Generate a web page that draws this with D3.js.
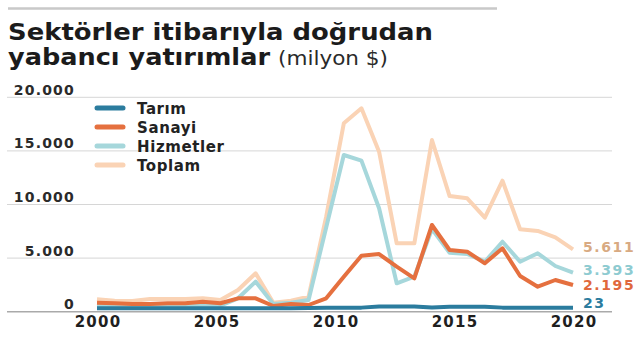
<!DOCTYPE html>
<html>
<head>
<meta charset="utf-8">
<script src="https://cdn.jsdelivr.net/npm/d3@7"></script>
<style>
    body { margin: 0; background: #fff; }
    svg { display: block; }
    text { font-family: "DejaVu Sans", sans-serif; }
</style>
</head>
<body>
<div id="chart"></div>
<script>
// Values (milyon $), 28 points spread evenly from 2000 to 2020
var toplam    = [1157, 1026, 998, 1185, 1185, 1185, 1250, 1091, 2024, 3582, 840, 1026, 1400, 8860,
                 17575, 18975, 14925, 6380, 6380, 16015, 10790, 10580, 8770, 12220, 7690, 7530, 6940, 5820];
var hizmetler = [600, 560, 580, 620, 600, 600, 620, 560, 1250, 2800, 720, 840, 1090, 7850,
                 14620, 14090, 9645, 2650, 3265, 7700, 5504, 5382, 4664, 6530, 4664, 5448, 4263, 3638];
var sanayi    = [840, 784, 718, 718, 784, 784, 933, 784, 1250, 1250, 532, 718, 625, 1250,
                 3265, 5224, 5382, 4198, 3116, 8088, 5756, 5597, 4515, 5914, 3330, 2332, 2957, 2490];
var tarim     = [330, 330, 330, 330, 330, 330, 330, 330, 330, 330, 330, 330, 350, 360,
                 380, 380, 480, 480, 480, 400, 460, 460, 460, 380, 380, 380, 380, 380];

// Legend names, end labels and tick labels
var seriesNames = ["Tarım", "Sanayi", "Hizmetler", "Toplam"];
var endLabels = ["23", "2.195", "3.393", "5.611"];
var yearTicks = [2000, 2005, 2010, 2015, 2020];
var valueTicks = [0, 5000, 10000, 15000, 20000];

(function () {
    var width = 643, height = 343;

    // Line colours and the (slightly darker) label colours, in legend order
    var colors = ["#2b7c9e", "#e5703f", "#a6d7db", "#fad3b5"];
    var labelColors = ["#2b7c9e", "#e0683c", "#8ecbd1", "#d8aa82"];
    var series = [tarim, sanayi, hizmetler, toplam];

    var svg = d3.select("#chart").append("svg")
        .attr("width", width)
        .attr("height", height);

    // Scales: index for the points, year for the axis labels
    var x = d3.scaleLinear().domain([0, toplam.length - 1]).range([97, 573]);
    var xYear = d3.scaleLinear().domain([2000, 2020]).range([97, 573]);
    var y = d3.scaleLinear().domain([0, 20000]).range([311.7, 97.3]);

    var fmt = d3.formatLocale({decimal: ",", thousands: ".", grouping: [3], currency: ["", "$"]}).format(",d");

    // Rule on top
    svg.append("line")
        .attr("x1", 8).attr("x2", 497)
        .attr("y1", 8.5).attr("y2", 8.5)
        .style("stroke", "#c9c9c9")
        .style("stroke-width", 2.5);

    // Title
    svg.append("text")
        .attr("x", 8).attr("y", 40)
        .attr("textLength", 425)
        .attr("lengthAdjust", "spacingAndGlyphs")
        .style("font-size", "23px")
        .style("font-weight", "bold")
        .style("fill", "#1b1b1b")
        .text("Sektörler itibarıyla doğrudan");

    svg.append("text")
        .attr("x", 8).attr("y", 65)
        .attr("textLength", 262)
        .attr("lengthAdjust", "spacingAndGlyphs")
        .style("font-size", "23px")
        .style("font-weight", "bold")
        .style("fill", "#1b1b1b")
        .text("yabancı yatırımlar");

    svg.append("text")
        .attr("x", 278).attr("y", 65)
        .attr("textLength", 110)
        .attr("lengthAdjust", "spacingAndGlyphs")
        .style("font-size", "19px")
        .style("fill", "#2a2a2a")
        .text("(milyon $)");

    // Grid lines with the value labels sitting on top of them
    var grid = svg.append("g");
    grid.selectAll("line")
        .data(valueTicks)
        .enter().append("line")
        .attr("x1", 7).attr("x2", 612)
        .attr("y1", function (d) { return y(d); })
        .attr("y2", function (d) { return y(d); })
        .style("stroke", function (d) { return d === 0 ? "#aaaaaa" : "#d6d6d6"; })
        .style("stroke-width", function (d) { return d === 0 ? 1.5 : 1; });

    grid.selectAll("text")
        .data(valueTicks)
        .enter().append("text")
        .attr("x", 75)
        .attr("y", function (d) { return y(d) - 2.5; })
        .attr("text-anchor", "end")
        .style("font-size", "14px")
        .style("font-weight", "bold")
        .style("letter-spacing", "1.2px")
        .style("fill", "#2a2a2a")
        .text(function (d) { return fmt(d); });

    // Year labels under the axis
    svg.append("g").selectAll("text")
        .data(yearTicks)
        .enter().append("text")
        .attr("x", function (d) { return xYear(d) + 1; })
        .attr("y", 326.5)
        .attr("text-anchor", "middle")
        .style("font-size", "15px")
        .style("font-weight", "bold")
        .style("letter-spacing", "1.2px")
        .style("fill", "#1f1f1f")
        .text(function (d) { return d; });

    // Lines, Toplam at the bottom and Tarım on top
    var line = d3.line()
        .x(function (d, i) { return x(i); })
        .y(function (d) { return y(d); });

    for (var i = series.length - 1; i >= 0; i -= 1) {
        svg.append("path")
            .datum(series[i])
            .attr("d", line)
            .style("fill", "none")
            .style("stroke", colors[i])
            .style("stroke-width", 4)
            .style("stroke-linejoin", "round");
    }

    // Value labels at the end of each line, top one first, pushed apart when too close
    var labelY = [];
    for (i = series.length - 1; i >= 0; i -= 1) {
        var last = series[i][series[i].length - 1];
        var ly = Math.min(y(last) + 2.5, y(0) - 3.5);
        if (i < series.length - 1 && ly - labelY[i + 1] < 14.5) {
            ly = labelY[i + 1] + 14.5;
        }
        labelY[i] = ly;
    }

    for (i = 0; i < series.length; i += 1) {
        svg.append("text")
            .attr("x", 583)
            .attr("y", labelY[i])
            .style("font-size", "14px")
            .style("font-weight", "bold")
            .style("letter-spacing", "1.6px")
            .style("fill", labelColors[i])
            .text(endLabels[i]);
    }

    // Legend
    var legend = svg.append("g");
    legend.selectAll("line")
        .data(seriesNames)
        .enter().append("line")
        .attr("x1", 97).attr("x2", 123)
        .attr("y1", function (d, i) { return 108 + i * 19; })
        .attr("y2", function (d, i) { return 108 + i * 19; })
        .style("stroke", function (d, i) { return colors[i]; })
        .style("stroke-width", 5)
        .style("stroke-linecap", "round");

    legend.selectAll("text")
        .data(seriesNames)
        .enter().append("text")
        .attr("x", 137)
        .attr("y", function (d, i) { return 113.5 + i * 19; })
        .style("font-size", "15px")
        .style("font-weight", "bold")
        .style("letter-spacing", "0.6px")
        .style("fill", "#222")
        .text(function (d) { return d; });
}());
</script>
</body>
</html>
